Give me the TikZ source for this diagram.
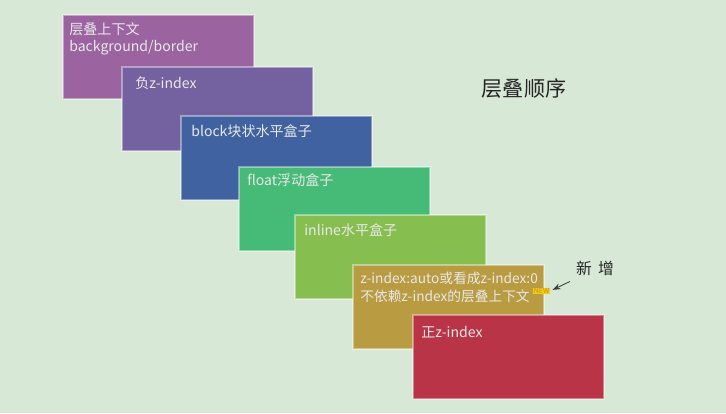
\documentclass[tikz,border=0pt]{standalone}
\usepackage{fontspec}
\setmainfont{Noto Sans CJK SC}
\usepackage{tikz}
\usetikzlibrary{arrows.meta,positioning,calc}
\usepackage{xcolor}
\definecolor{stackbg}{RGB}{216,232,214}
\definecolor{ctxpurple}{RGB}{155,100,160}
\definecolor{negviolet}{RGB}{116,98,160}
\definecolor{blockblue}{RGB}{64,98,160}
\definecolor{floatgreen}{RGB}{70,187,120}
\definecolor{inlinegreen}{RGB}{135,190,80}
\definecolor{autogold}{RGB}{185,155,65}
\definecolor{posred}{RGB}{184,52,70}
\definecolor{boxtext}{RGB}{232,232,232}
\definecolor{tagyellow}{RGB}{230,212,30}
\definecolor{tagorange}{RGB}{225,125,30}

\begin{document}
\begin{tikzpicture}[x=0.02cm, y=-0.02cm,
    layer/.style={rectangle, draw=white, draw opacity=0.4, line width=0.9pt,
        minimum width=3.82cm, minimum height=1.68cm, anchor=north west,
        inner sep=0pt},
    lbl/.style={anchor=north west, inner sep=0pt, align=left, text=boxtext,
        font=\fontsize{8pt}{9.9pt}\selectfont, xshift=0.18cm, yshift=-0.16cm},
    arr/.style={-{Stealth[length=1.6mm, width=1.2mm]}, line width=0.5pt, black!75}
]
    \fill[stackbg] (0,0) rectangle (726,413);
    \useasboundingbox (0,0) rectangle (726,413);

    % stacking layers, bottom to top
    \node[layer, fill=ctxpurple] (ctx) at (62,14)
        [label={[lbl, xshift=-0.04cm, yshift=0.0cm]north west:{层叠上下文\\background/border}}] {};
    \node[layer, fill=negviolet] (neg) at (121,66)
        [label={[lbl, xshift=0.1cm, yshift=-0.04cm]north west:{负z-index}}] {};
    \node[layer, fill=blockblue] (blk) at (180,115)
        [label={[lbl, xshift=0.04cm, yshift=-0.02cm]north west:{block块状水平盒子}}] {};
    \node[layer, fill=floatgreen] (flt) at (238,166)
        [label={[lbl, yshift=0.02cm]north west:{float浮动盒子}}] {};
    \node[layer, fill=inlinegreen] (inl) at (294,214)
        [label={[lbl, xshift=0.02cm, yshift=-0.02cm]north west:{inline水平盒子}}] {};
    \node[layer, fill=autogold] (auto) at (352,264)
        [label={[lbl, xshift=-0.02cm, font=\fontsize{7.8pt}{9.9pt}\selectfont]north west:{z-index:auto或看成z-index:0\\不依赖z-index的层叠上下文}}] {};
    \node[layer, fill=posred] (pos) at (412,314)
        [label={[lbl, yshift=-0.08cm]north west:{正z-index}}] {};

    % title
    \node[font=\fontsize{12pt}{14pt}\selectfont, text=black!85] (title) at (524,89) {层叠顺序};

    % new tag and note
    \node[fill=tagyellow, inner sep=0.4pt, text=tagorange,
        font=\fontsize{4pt}{4pt}\selectfont] (newtag) at (541.5,291) {NEW};
    \node[font=\fontsize{9pt}{9pt}\selectfont, text=black!85] (note) at (595,268) {新\hspace{0.4em}增};
    \draw[arr, shorten >=1.5pt] (note.south west) -- (newtag.east);
\end{tikzpicture}
\end{document}
